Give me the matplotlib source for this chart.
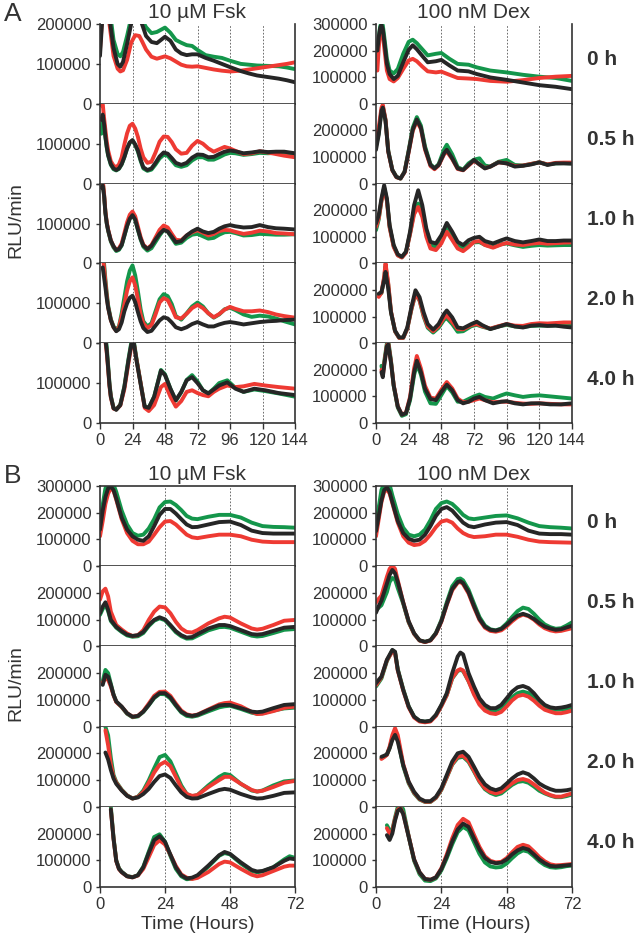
import matplotlib
matplotlib.use('Agg')
import matplotlib.pyplot as plt

plt.rcParams['font.family'] = ['Liberation Sans', 'DejaVu Sans']

# ---- data: luminescence traces, values in thousands of RLU/min ----
row_labels = ['0 h', '0.5 h', '1.0 h', '2.0 h', '4.0 h']
col_titles = ['10 \u00b5M Fsk', '100 nM Dex']
a_xticks = [0, 24, 48, 72, 96, 120, 144]
b_xticks = [0, 24, 48, 72]

# panel A, Fsk
a_fsk_0h_t = [0, 1, 2, 4, 7, 10, 13, 15, 17, 20, 23, 26, 29, 31, 34, 38, 42, 48, 52, 56, 60, 64, 68, 72, 78, 84, 90, 96, 104, 110, 116, 124, 132, 138, 144]
a_fsk_0h_blk = [120, 175, 230, 260, 215, 140, 100, 93, 105, 150, 200, 235, 220, 200, 170, 155, 152, 168, 158, 136, 126, 122, 124, 124, 115, 108, 100, 92, 82, 76, 71, 67, 63, 59, 54]
a_fsk_0h_grn = [150, 210, 250, 280, 240, 160, 125, 119, 130, 170, 215, 250, 235, 210, 192, 177, 180, 191, 178, 160, 153, 147, 145, 135, 122, 118, 115, 108, 100, 98, 96, 95, 94, 91, 87]
a_fsk_0h_red = [135, 185, 225, 245, 200, 120, 88, 81, 84, 110, 153, 172, 170, 157, 136, 118, 113, 119, 114, 106, 98, 94, 93, 94, 90, 86, 83, 81, 83, 86, 89, 93, 97, 100, 104]

a_fsk_05h_t = [1, 2, 3, 4, 5, 6, 8, 10, 12, 14, 16, 18, 20, 22, 24, 26, 28, 30, 32, 35, 38, 41, 44, 47, 50, 53, 56, 60, 64, 68, 72, 76, 80, 84, 88, 92, 96, 100, 106, 112, 118, 124, 130, 136, 144]
a_fsk_05h_blk = [160, 173, 150, 118, 92, 72, 49, 38, 34, 38, 49, 67, 88, 103, 109, 98, 83, 60, 41, 34, 38, 52, 68, 78, 75, 64, 52, 47, 52, 65, 73, 72, 66, 67, 74, 80, 83, 81, 76, 78, 81, 79, 80, 80, 76]
a_fsk_05h_grn = [125, 165, 148, 115, 90, 70, 47, 36, 33, 37, 48, 66, 88, 103, 108, 97, 80, 57, 38, 32, 35, 48, 63, 72, 70, 58, 46, 42, 46, 58, 66, 66, 60, 60, 66, 73, 77, 76, 72, 74, 77, 76, 77, 76, 73]
a_fsk_05h_red = [196, 200, 165, 134, 105, 83, 56, 45, 41, 48, 66, 98, 126, 145, 150, 138, 117, 88, 66, 52, 55, 78, 105, 118, 117, 104, 86, 75, 77, 95, 107, 100, 88, 80, 86, 92, 88, 82, 74, 76, 81, 78, 74, 70, 66]

a_fsk_1h_t = a_fsk_05h_t
a_fsk_1h_blk = [190, 195, 170, 126, 100, 83, 57, 43, 33, 36, 46, 70, 94, 112, 121, 110, 85, 62, 45, 36, 44, 60, 74, 84, 80, 67, 53, 56, 70, 80, 87, 80, 76, 79, 87, 93, 96, 93, 90, 91, 96, 91, 88, 87, 85]
a_fsk_1h_grn = [200, 205, 172, 128, 100, 82, 55, 40, 31, 34, 45, 69, 94, 113, 121, 109, 84, 60, 42, 32, 38, 54, 70, 84, 80, 64, 49, 52, 64, 72, 74, 68, 62, 64, 72, 78, 79, 76, 70, 71, 74, 73, 72, 72, 73]
a_fsk_1h_red = [215, 210, 175, 130, 103, 85, 58, 43, 34, 38, 50, 76, 103, 122, 130, 118, 92, 66, 47, 37, 46, 65, 84, 95, 90, 74, 59, 58, 70, 78, 83, 77, 70, 74, 81, 84, 83, 79, 74, 77, 82, 80, 76, 75, 73]

a_fsk_2h_t = [2, 3, 4, 5, 6, 8, 10, 12, 14, 16, 18, 20, 22, 24, 26, 28, 30, 32, 35, 38, 41, 44, 47, 50, 53, 56, 60, 64, 68, 72, 76, 80, 84, 88, 92, 96, 100, 106, 112, 118, 124, 130, 136, 144]
a_fsk_2h_blk = [190, 165, 140, 112, 89, 58, 40, 30, 35, 52, 80, 100, 114, 119, 103, 78, 55, 38, 28, 31, 44, 57, 65, 62, 52, 40, 35, 40, 48, 53, 47, 42, 42, 47, 51, 53, 51, 47, 50, 53, 55, 56, 58, 59]
a_fsk_2h_grn = [230, 200, 160, 125, 95, 60, 42, 34, 42, 75, 115, 155, 182, 195, 170, 130, 85, 55, 42, 50, 80, 110, 123, 118, 98, 68, 59, 75, 92, 102, 92, 75, 64, 72, 85, 89, 83, 72, 66, 69, 67, 62, 55, 47]
a_fsk_2h_red = [220, 190, 152, 118, 90, 58, 40, 31, 40, 68, 97, 132, 155, 165, 145, 110, 72, 50, 38, 45, 72, 102, 113, 108, 88, 65, 62, 74, 88, 96, 88, 75, 65, 73, 84, 91, 86, 80, 80, 82, 78, 72, 68, 64]

a_fsk_4h_t = [4, 5, 6, 7, 8, 10, 12, 15, 18, 21, 23, 24, 25, 27, 30, 33, 36, 40, 45, 48, 52, 56, 60, 64, 68, 72, 76, 80, 84, 88, 94, 100, 106, 114, 122, 132, 144]
a_fsk_4h_blk = [210, 180, 139, 95, 66, 37, 33, 45, 90, 156, 195, 205, 200, 156, 98, 41, 38, 66, 131, 120, 86, 57, 78, 107, 115, 100, 82, 74, 84, 94, 102, 86, 78, 86, 82, 75, 70]
a_fsk_4h_grn = [220, 190, 145, 100, 68, 38, 34, 46, 92, 160, 200, 210, 205, 160, 100, 42, 38, 66, 133, 122, 86, 56, 77, 108, 120, 104, 82, 74, 86, 100, 107, 88, 78, 84, 80, 74, 66]
a_fsk_4h_red = [205, 175, 135, 92, 64, 36, 34, 44, 85, 150, 190, 200, 198, 158, 100, 38, 30, 45, 90, 98, 66, 41, 55, 78, 82, 75, 70, 67, 78, 86, 94, 90, 92, 98, 94, 90, 86]

# panel A, Dex
a_dex_0h_t = [1, 2, 3, 4, 5, 6, 8, 10, 13, 16, 20, 24, 27, 30, 34, 38, 44, 48, 54, 60, 68, 74, 84, 96, 108, 120, 132, 144]
a_dex_0h_blk = [200, 250, 283, 296, 280, 239, 150, 112, 93, 105, 156, 203, 220, 205, 180, 156, 160, 165, 144, 125, 122, 112, 99, 90, 80, 70, 64, 55]
a_dex_0h_grn = [175, 250, 290, 305, 295, 255, 169, 125, 114, 131, 188, 233, 241, 228, 205, 182, 188, 191, 169, 150, 147, 137, 125, 118, 109, 102, 97, 86]
a_dex_0h_red = [125, 210, 264, 290, 265, 214, 125, 93, 84, 97, 131, 163, 169, 160, 140, 122, 118, 121, 109, 97, 95, 93, 86, 83, 89, 97, 102, 105]

a_dex_05h_t = [0, 2, 4, 5, 7, 9, 12, 15, 18, 21, 24, 27, 30, 33, 36, 40, 43, 46, 50, 52, 56, 60, 64, 68, 72, 76, 80, 84, 90, 96, 102, 108, 114, 120, 126, 132, 138, 144]
a_dex_05h_blk = [127, 184, 273, 286, 235, 121, 51, 25, 19, 44, 121, 203, 241, 210, 133, 70, 57, 70, 114, 127, 95, 57, 51, 70, 89, 72, 57, 64, 80, 76, 64, 67, 72, 80, 70, 76, 76, 75]
a_dex_05h_grn = [140, 190, 275, 290, 240, 124, 52, 25, 19, 45, 125, 210, 250, 218, 140, 73, 58, 73, 128, 146, 110, 62, 52, 76, 90, 95, 68, 64, 82, 89, 70, 68, 74, 80, 72, 76, 77, 76]
a_dex_05h_red = [159, 210, 285, 296, 240, 120, 50, 24, 19, 43, 118, 198, 235, 205, 128, 66, 54, 68, 110, 121, 92, 55, 50, 68, 86, 72, 58, 64, 80, 76, 66, 68, 74, 80, 72, 78, 79, 79]

a_dex_1h_t = [0, 2, 4, 6, 8, 10, 13, 16, 19, 22, 25, 28, 31, 34, 37, 40, 44, 48, 52, 56, 60, 64, 68, 72, 76, 80, 86, 92, 96, 102, 108, 114, 120, 126, 132, 138, 144]
a_dex_1h_blk = [150, 181, 244, 294, 244, 144, 69, 34, 25, 44, 119, 219, 275, 219, 131, 81, 75, 106, 152, 119, 81, 69, 87, 96, 100, 84, 75, 87, 94, 84, 79, 84, 90, 84, 84, 86, 86]
a_dex_1h_grn = [125, 165, 235, 285, 238, 138, 64, 31, 23, 42, 112, 195, 225, 185, 108, 69, 62, 90, 131, 100, 67, 56, 70, 79, 80, 70, 62, 72, 75, 68, 62, 66, 69, 67, 68, 69, 69]
a_dex_1h_red = [137, 170, 235, 281, 235, 135, 62, 30, 22, 40, 110, 185, 212, 175, 100, 56, 50, 75, 119, 88, 56, 46, 62, 81, 84, 69, 59, 71, 77, 71, 69, 74, 77, 74, 76, 78, 79]

a_dex_2h_t = [2, 4, 6, 7, 9, 11, 14, 17, 20, 23, 26, 29, 32, 35, 38, 42, 46, 50, 52, 56, 60, 64, 70, 74, 78, 84, 90, 96, 102, 108, 114, 120, 126, 132, 138, 144]
a_dex_2h_blk = [186, 192, 237, 268, 205, 116, 47, 22, 22, 59, 135, 199, 173, 116, 72, 51, 72, 110, 123, 97, 59, 56, 72, 81, 68, 53, 62, 72, 63, 59, 66, 68, 65, 66, 62, 59]
a_dex_2h_grn = [180, 188, 245, 290, 220, 118, 44, 20, 20, 55, 126, 186, 160, 100, 58, 40, 58, 88, 94, 72, 43, 45, 64, 69, 62, 54, 63, 69, 63, 61, 65, 66, 66, 67, 66, 66]
a_dex_2h_red = [174, 190, 250, 300, 225, 120, 45, 20, 20, 55, 128, 186, 162, 105, 63, 45, 64, 96, 104, 80, 53, 52, 68, 72, 64, 55, 64, 72, 66, 65, 72, 75, 74, 76, 78, 78]

a_dex_4h_t = [4, 5, 6, 8, 9, 11, 13, 16, 19, 22, 25, 28, 30, 33, 36, 40, 44, 48, 52, 56, 60, 64, 68, 72, 76, 80, 86, 92, 96, 102, 108, 114, 120, 128, 136, 144]
a_dex_4h_blk = [191, 172, 215, 289, 295, 228, 141, 62, 31, 37, 92, 191, 234, 191, 129, 90, 86, 117, 144, 123, 86, 74, 80, 92, 98, 86, 74, 80, 82, 74, 70, 74, 74, 70, 70, 74]
a_dex_4h_grn = [215, 190, 230, 300, 310, 235, 140, 58, 27, 33, 85, 180, 221, 182, 118, 74, 72, 105, 139, 115, 80, 80, 90, 100, 107, 98, 92, 104, 111, 104, 98, 102, 104, 100, 96, 92]
a_dex_4h_red = [200, 178, 220, 292, 300, 230, 143, 63, 32, 38, 98, 205, 252, 205, 140, 95, 92, 125, 154, 130, 92, 78, 80, 86, 92, 86, 78, 80, 80, 76, 73, 72, 74, 72, 70, 70]

# panel B, Fsk
b_fsk_0h_t = [0, 1, 2, 3, 4, 5, 6, 8, 10, 12, 14, 16, 18, 20, 22, 24, 26, 28, 30, 32, 34, 36, 40, 44, 48, 52, 56, 60, 64, 68, 72]
b_fsk_0h_blk = [137, 208, 259, 291, 297, 285, 253, 182, 137, 112, 99, 95, 112, 150, 192, 214, 214, 197, 176, 156, 146, 147, 156, 165, 167, 154, 133, 124, 122, 122, 122]
b_fsk_0h_grn = [156, 230, 291, 310, 312, 305, 278, 208, 156, 124, 114, 118, 141, 176, 220, 240, 242, 229, 210, 188, 178, 176, 185, 192, 192, 182, 163, 150, 147, 146, 144]
b_fsk_0h_red = [112, 169, 233, 272, 291, 282, 249, 176, 124, 95, 82, 82, 92, 118, 146, 167, 169, 156, 137, 118, 108, 105, 112, 118, 118, 112, 99, 92, 90, 90, 90]

b_fsk_05h_t = [0, 1, 2, 3, 4, 6, 8, 10, 12, 14, 16, 18, 20, 22, 24, 26, 28, 30, 32, 34, 36, 40, 44, 46, 48, 52, 56, 58, 60, 64, 68, 72]
b_fsk_05h_blk = [124, 149, 165, 137, 99, 73, 57, 44, 39, 42, 54, 80, 99, 109, 101, 80, 57, 42, 33, 35, 46, 67, 80, 80, 76, 61, 46, 44, 46, 58, 70, 73]
b_fsk_05h_grn = [118, 140, 157, 132, 95, 70, 54, 41, 36, 38, 50, 76, 96, 105, 98, 76, 53, 38, 29, 30, 40, 60, 72, 73, 70, 55, 40, 37, 39, 50, 62, 65]
b_fsk_05h_red = [175, 206, 216, 187, 130, 80, 63, 48, 39, 42, 61, 99, 130, 149, 146, 124, 92, 67, 54, 52, 61, 86, 105, 111, 108, 86, 67, 63, 66, 80, 96, 99]

b_fsk_1h_t = [1, 2, 3, 4, 5, 6, 8, 10, 12, 14, 16, 18, 20, 22, 24, 26, 28, 30, 32, 34, 36, 40, 44, 46, 48, 52, 56, 58, 60, 64, 68, 72]
b_fsk_1h_blk = [156, 194, 187, 156, 119, 94, 75, 50, 37, 40, 56, 81, 109, 125, 125, 109, 81, 56, 44, 40, 44, 62, 79, 81, 81, 69, 56, 54, 56, 69, 81, 84]
b_fsk_1h_grn = [170, 212, 200, 160, 120, 93, 73, 48, 35, 38, 55, 80, 107, 122, 121, 105, 78, 53, 40, 37, 41, 57, 72, 76, 78, 66, 52, 48, 50, 60, 68, 71]
b_fsk_1h_red = [165, 180, 175, 150, 117, 92, 74, 50, 37, 40, 58, 86, 115, 130, 131, 115, 86, 60, 46, 41, 45, 64, 83, 88, 90, 76, 55, 47, 48, 58, 70, 75]

b_fsk_2h_t = [2, 3, 4, 5, 6, 8, 10, 12, 14, 16, 18, 20, 22, 24, 26, 28, 30, 32, 34, 36, 40, 44, 46, 48, 52, 56, 58, 60, 64, 68, 72]
b_fsk_2h_blk = [203, 177, 138, 106, 86, 61, 41, 31, 35, 48, 67, 93, 115, 121, 108, 80, 54, 37, 31, 32, 48, 63, 67, 64, 48, 35, 31, 32, 41, 52, 54]
b_fsk_2h_grn = [299, 267, 183, 119, 93, 64, 43, 31, 38, 61, 99, 144, 186, 194, 170, 125, 80, 48, 39, 44, 80, 112, 123, 119, 86, 61, 57, 61, 80, 95, 99]
b_fsk_2h_red = [286, 230, 158, 112, 90, 62, 42, 31, 37, 56, 90, 128, 157, 168, 152, 112, 72, 48, 41, 44, 74, 100, 112, 112, 86, 63, 57, 60, 74, 90, 97]

b_fsk_4h_t = [4, 5, 6, 7, 8, 10, 12, 14, 16, 18, 20, 22, 24, 26, 28, 30, 32, 34, 36, 40, 44, 46, 48, 52, 56, 58, 60, 64, 68, 70, 72]
b_fsk_4h_blk = [290, 181, 98, 68, 56, 40, 36, 44, 74, 127, 175, 190, 169, 121, 74, 44, 32, 35, 44, 80, 119, 131, 124, 92, 64, 58, 60, 74, 98, 107, 104]
b_fsk_4h_grn = [300, 185, 100, 70, 57, 41, 37, 44, 76, 132, 187, 197, 169, 116, 68, 40, 29, 31, 40, 76, 117, 127, 122, 88, 60, 55, 58, 74, 103, 115, 109]
b_fsk_4h_red = [290, 180, 97, 67, 55, 40, 36, 43, 68, 112, 157, 175, 159, 121, 79, 47, 35, 30, 34, 56, 86, 95, 92, 68, 46, 40, 44, 60, 76, 80, 80]

# panel B, Dex
b_dex_0h_t = b_fsk_0h_t
b_dex_0h_blk = [131, 188, 246, 285, 295, 278, 240, 169, 124, 103, 95, 99, 118, 150, 188, 214, 221, 208, 185, 163, 150, 146, 156, 163, 165, 154, 133, 122, 120, 120, 118]
b_dex_0h_grn = [156, 220, 285, 310, 312, 305, 265, 195, 144, 118, 112, 118, 137, 172, 214, 236, 242, 233, 214, 192, 179, 176, 182, 188, 190, 179, 163, 150, 146, 144, 141]
b_dex_0h_red = [112, 176, 240, 278, 287, 272, 236, 163, 112, 88, 79, 82, 95, 118, 146, 167, 172, 163, 141, 124, 114, 109, 112, 118, 118, 110, 99, 92, 90, 89, 88]

b_dex_05h_t = [0, 1, 2, 4, 5, 6, 7, 8, 10, 12, 14, 16, 18, 20, 22, 24, 26, 28, 30, 31, 32, 34, 36, 38, 40, 42, 44, 46, 48, 50, 52, 54, 56, 58, 60, 62, 64, 66, 68, 70, 72]
b_dex_05h_blk = [126, 151, 171, 235, 267, 286, 273, 241, 164, 94, 49, 23, 17, 23, 49, 94, 158, 215, 241, 244, 237, 203, 151, 103, 74, 62, 59, 65, 81, 100, 115, 122, 115, 103, 87, 74, 67, 62, 64, 71, 77]
b_dex_05h_grn = [135, 145, 154, 203, 241, 256, 250, 218, 160, 90, 47, 22, 17, 23, 50, 98, 165, 225, 252, 254, 247, 212, 160, 110, 78, 64, 60, 67, 86, 110, 132, 145, 140, 122, 100, 82, 72, 66, 68, 78, 90]
b_dex_05h_red = [164, 178, 190, 260, 290, 302, 290, 247, 165, 92, 47, 22, 16, 22, 47, 92, 155, 210, 238, 241, 233, 198, 146, 99, 70, 58, 55, 60, 75, 94, 110, 119, 113, 100, 82, 68, 60, 56, 58, 63, 68]

b_dex_1h_t = [0, 1, 2, 4, 6, 7, 8, 10, 12, 14, 16, 18, 20, 22, 24, 26, 28, 30, 31, 32, 34, 36, 38, 40, 42, 44, 46, 48, 50, 52, 54, 56, 58, 60, 62, 64, 66, 68, 70, 72]
b_dex_1h_blk = [162, 175, 187, 250, 287, 280, 212, 137, 75, 37, 22, 19, 22, 44, 81, 125, 200, 262, 277, 270, 200, 150, 106, 81, 69, 69, 81, 106, 131, 147, 152, 144, 125, 100, 81, 72, 69, 71, 75, 81]
b_dex_1h_grn = [150, 165, 180, 245, 285, 278, 215, 140, 76, 37, 21, 18, 21, 42, 78, 118, 180, 208, 212, 208, 170, 125, 90, 70, 60, 60, 70, 90, 110, 125, 131, 125, 110, 90, 75, 66, 63, 64, 66, 69]
b_dex_1h_red = [155, 170, 185, 248, 281, 275, 210, 135, 72, 34, 19, 16, 19, 40, 76, 118, 182, 210, 215, 210, 170, 120, 82, 60, 50, 47, 55, 75, 98, 114, 119, 112, 97, 78, 63, 56, 50, 50, 54, 60]

b_dex_2h_t = [2, 3, 4, 5, 6, 7, 8, 10, 12, 14, 16, 18, 20, 22, 24, 26, 28, 30, 32, 34, 36, 38, 40, 42, 44, 46, 48, 50, 52, 54, 56, 58, 60, 62, 64, 66, 68, 70, 72]
b_dex_2h_blk = [187, 191, 196, 219, 250, 269, 244, 156, 94, 56, 31, 21, 21, 37, 69, 119, 169, 200, 206, 187, 150, 112, 84, 69, 62, 69, 87, 106, 121, 129, 122, 106, 87, 75, 66, 60, 60, 62, 66]
b_dex_2h_grn = [182, 188, 195, 220, 258, 280, 255, 152, 88, 50, 27, 18, 18, 33, 63, 110, 158, 183, 187, 168, 132, 94, 66, 52, 44, 50, 66, 82, 93, 96, 90, 76, 60, 50, 42, 36, 36, 40, 46]
b_dex_2h_red = [179, 186, 194, 225, 268, 294, 268, 160, 92, 53, 29, 19, 19, 34, 65, 112, 160, 188, 191, 172, 135, 96, 70, 56, 50, 56, 72, 88, 100, 104, 98, 84, 68, 53, 44, 38, 38, 44, 50]

b_dex_4h_t = [4, 5, 6, 7, 8, 9, 10, 12, 14, 16, 18, 20, 22, 24, 26, 28, 30, 32, 34, 36, 38, 40, 42, 44, 46, 48, 50, 52, 54, 56, 58, 60, 62, 64, 66, 68, 70, 72]
b_dex_4h_blk = [194, 176, 200, 249, 285, 292, 273, 188, 103, 55, 30, 27, 36, 67, 115, 170, 215, 237, 225, 182, 140, 109, 94, 89, 91, 103, 122, 137, 146, 140, 122, 103, 89, 79, 77, 79, 81, 83]
b_dex_4h_grn = [231, 212, 215, 260, 300, 310, 290, 190, 98, 48, 24, 22, 32, 62, 108, 160, 205, 225, 212, 168, 124, 92, 77, 73, 75, 88, 108, 126, 137, 132, 115, 96, 82, 74, 72, 74, 78, 80]
b_dex_4h_red = [220, 200, 210, 255, 290, 295, 275, 190, 103, 55, 30, 27, 36, 70, 122, 182, 232, 255, 242, 195, 150, 115, 98, 92, 94, 108, 130, 150, 158, 152, 133, 112, 96, 85, 81, 82, 84, 86]

a_fsk = [(a_fsk_0h_t, a_fsk_0h_grn, a_fsk_0h_red, a_fsk_0h_blk),
         (a_fsk_05h_t, a_fsk_05h_grn, a_fsk_05h_red, a_fsk_05h_blk),
         (a_fsk_1h_t, a_fsk_1h_grn, a_fsk_1h_red, a_fsk_1h_blk),
         (a_fsk_2h_t, a_fsk_2h_grn, a_fsk_2h_red, a_fsk_2h_blk),
         (a_fsk_4h_t, a_fsk_4h_grn, a_fsk_4h_red, a_fsk_4h_blk)]
a_dex = [(a_dex_0h_t, a_dex_0h_grn, a_dex_0h_red, a_dex_0h_blk),
         (a_dex_05h_t, a_dex_05h_grn, a_dex_05h_red, a_dex_05h_blk),
         (a_dex_1h_t, a_dex_1h_grn, a_dex_1h_red, a_dex_1h_blk),
         (a_dex_2h_t, a_dex_2h_grn, a_dex_2h_red, a_dex_2h_blk),
         (a_dex_4h_t, a_dex_4h_grn, a_dex_4h_red, a_dex_4h_blk)]
b_fsk = [(b_fsk_0h_t, b_fsk_0h_grn, b_fsk_0h_red, b_fsk_0h_blk),
         (b_fsk_05h_t, b_fsk_05h_grn, b_fsk_05h_red, b_fsk_05h_blk),
         (b_fsk_1h_t, b_fsk_1h_grn, b_fsk_1h_red, b_fsk_1h_blk),
         (b_fsk_2h_t, b_fsk_2h_grn, b_fsk_2h_red, b_fsk_2h_blk),
         (b_fsk_4h_t, b_fsk_4h_grn, b_fsk_4h_red, b_fsk_4h_blk)]
b_dex = [(b_dex_0h_t, b_dex_0h_grn, b_dex_0h_red, b_dex_0h_blk),
         (b_dex_05h_t, b_dex_05h_grn, b_dex_05h_red, b_dex_05h_blk),
         (b_dex_1h_t, b_dex_1h_grn, b_dex_1h_red, b_dex_1h_blk),
         (b_dex_2h_t, b_dex_2h_grn, b_dex_2h_red, b_dex_2h_blk),
         (b_dex_4h_t, b_dex_4h_grn, b_dex_4h_red, b_dex_4h_blk)]

# ---- style ----
GREEN = '#14964b'
RED = '#ee3a33'
BLACK = '#262626'
INK = '#333333'
W, H = 640, 944

fig = plt.figure(figsize=(W / 100, H / 100), dpi=100)


def px_axes(x0, y0, x1, y1):
    return fig.add_axes([x0 / W, 1 - y1 / H, (x1 - x0) / W, (y1 - y0) / H])


def draw_column(rows, x0, x1, top, bottom, ymax, xmax, xticks, grid, xlabel, top_frame):
    h = (bottom - top) / len(rows)
    for i, (t, g, r, k) in enumerate(rows):
        ax = px_axes(x0, top + i * h, x1, top + (i + 1) * h)
        ax.set_xlim(0, xmax)
        ax.set_ylim(0, ymax)
        for gx in grid:
            ax.axvline(gx, color='#555555', lw=0.6, ls=(0, (2, 2)), zorder=0)
        for vals, col in ((g, GREEN), (r, RED), (k, BLACK)):
            ax.plot(t, [v * 1000 for v in vals], color=col, lw=2.8,
                    solid_joinstyle='round', solid_capstyle='round')
        ax.spines['top'].set_visible(top_frame and i == 0)
        for s in ('left', 'bottom', 'right', 'top'):
            ax.spines[s].set_color(INK)
            ax.spines[s].set_linewidth(1.2)
        yt = list(range(0, ymax + 1, 100000))
        ax.set_yticks(yt)
        ax.set_yticklabels([str(v) if (i == 0 or v < ymax) else '' for v in yt])
        ax.tick_params(axis='y', direction='out', length=3, width=1,
                       colors=INK, labelsize=12, pad=3)
        ax.set_xticks(xticks)
        if i == len(rows) - 1:
            ax.tick_params(axis='x', direction='out', length=4, width=1,
                           colors=INK, labelsize=12, pad=3)
            if xlabel:
                ax.set_xlabel(xlabel, fontsize=14, color=INK, labelpad=3)
        else:
            ax.tick_params(axis='x', length=0, labelbottom=False)


def draw_group(fsk, dex, top, bottom, xmax, xticks, grid, fsk_ymax, letter, xlabel, top_frame):
    draw_column(fsk, 100, 295, top, bottom, fsk_ymax, xmax, xticks, grid, xlabel, top_frame)
    draw_column(dex, 376, 572, top, bottom, 300000, xmax, xticks, grid, xlabel, top_frame)
    h = (bottom - top) / 5
    for i, lab in enumerate(row_labels):
        fig.text(587 / W, 1 - (top + (i + 0.5) * h - 4) / H, lab, fontsize=15,
                 fontweight='bold', color=INK, ha='left', va='center')
    for cx, title in zip((197, 474), col_titles):
        fig.text(cx / W, 1 - (top - 12) / H, title, fontsize=15, color=INK,
                 ha='center', va='center')
    fig.text(4 / W, 1 - (top - 10) / H, letter, fontsize=19, color=INK,
             ha='left', va='center')
    fig.text(16 / W, 1 - ((top + bottom) / 2 - 3) / H, 'RLU/min', fontsize=14,
             color=INK, rotation=90, ha='center', va='center')


draw_group(a_fsk, a_dex, 24, 423, 144, a_xticks, [24, 48, 72, 96, 120], 200000, 'A', None, False)
draw_group(b_fsk, b_dex, 486, 887, 72, b_xticks, [24, 48], 300000, 'B', 'Time (Hours)', True)

fig.savefig('out.png', dpi=100)
